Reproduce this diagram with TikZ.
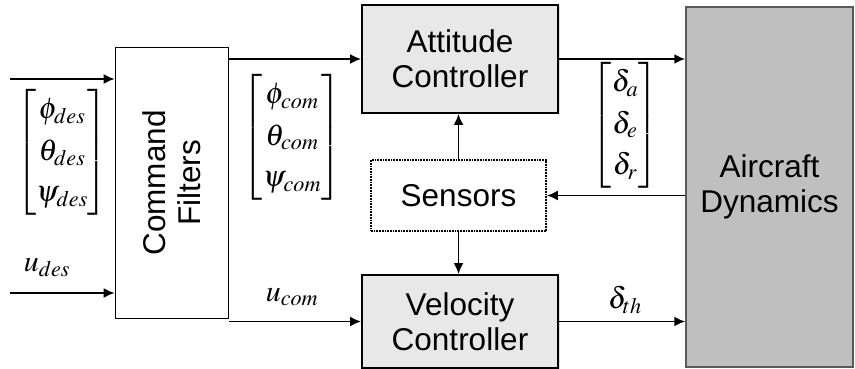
\documentclass[tikz,border=0pt]{standalone}
\usepackage{amsmath}
\usepackage{mathptmx}
\usepackage{fontspec}
\setmainfont{Liberation Sans}
\usetikzlibrary{arrows.meta,shadows}
\renewcommand{\arraystretch}{1.15}
\begin{document}
\begin{tikzpicture}[x=1pt,y=-1pt,
  blk/.style={draw,line width=1.9pt,fill=gray!18,font=\fontsize{31.5}{35}\selectfont,align=center,inner sep=0pt,
    drop shadow={opacity=0.25,shadow xshift=1.5pt,shadow yshift=-1.5pt}},
  wbox/.style={draw,line width=1.7pt,fill=white,align=center,inner sep=0pt},
  sig/.style={line width=1.8pt,-{Latex[length=11pt,width=10pt]}},
  lbl/.style={inner sep=0pt,font=\fontsize{30}{36}\selectfont}]
\useasboundingbox (0,0) rectangle (855,369);
% boxes
\node[wbox,minimum width=113pt,minimum height=271pt] (cf) at (172,183) {};
\node[rotate=90,font=\fontsize{31.5}{35}\selectfont,align=center] (cft) at (cf.center) {Command\\Filters};
\node[blk,minimum width=196pt,minimum height=108pt] (ac) at (460,59) {Attitude\\Controller};
\node[blk,minimum width=196pt,minimum height=93pt] (vc) at (460,321.5) {Velocity\\Controller};
\node[draw,densely dotted,line width=1.7pt,fill=white,minimum width=175pt,minimum height=71pt,inner sep=0pt,
  font=\fontsize{31.5}{35}\selectfont,drop shadow={opacity=0.2,shadow xshift=1pt,shadow yshift=-1pt}] (se) at (458.5,195.5) {Sensors};
\node[draw=gray!70!black,line width=1.5pt,fill=gray!50,minimum width=167pt,minimum height=360pt,inner sep=0pt,
  font=\fontsize{31.5}{35}\selectfont,align=center] (ad) at (769.5,187) {Aircraft\\Dynamics};
% input coordinates
\coordinate (in1) at (10,79);
\coordinate (in2) at (10,293);
% connectors
\draw[sig] (in1) -- (in1 -| cf.west);
\draw[sig] (in2) -- (in2 -| cf.west);
\draw[sig] (cf.east |- ac.west) -- (ac.west);
\draw[sig] (cf.east |- vc.west) -- (vc.west);
\draw[sig] (ac.east) -- (ac.east -| ad.west);
\draw[sig] (vc.east) -- (vc.east -| ad.west);
\draw[sig] (se.east -| ad.west) -- (se.east);
\draw[sig] (se.north) -- (se.north |- ac.south);
\draw[sig] (se.south) -- (se.south |- vc.north);
% labels
\node[lbl] (ld) at (62,152) {$\begin{bmatrix}\phi_{des}\\ \theta_{des}\\ \psi_{des}\end{bmatrix}$};
\node[lbl] (lu) at (47,268) {$u_{des}$};
\node[lbl] (lc) at (292,137) {$\begin{bmatrix}\phi_{com}\\ \theta_{com}\\ \psi_{com}\end{bmatrix}$};
\node[lbl] (luc) at (292,297) {$u_{com}$};
\node[lbl] (ldl) at (625,125) {$\begin{bmatrix}\delta_{a}\\ \delta_{e}\\ \delta_{r}\end{bmatrix}$};
\node[lbl] (lth) at (625,300) {$\delta_{th}$};
\end{tikzpicture}
\end{document}
